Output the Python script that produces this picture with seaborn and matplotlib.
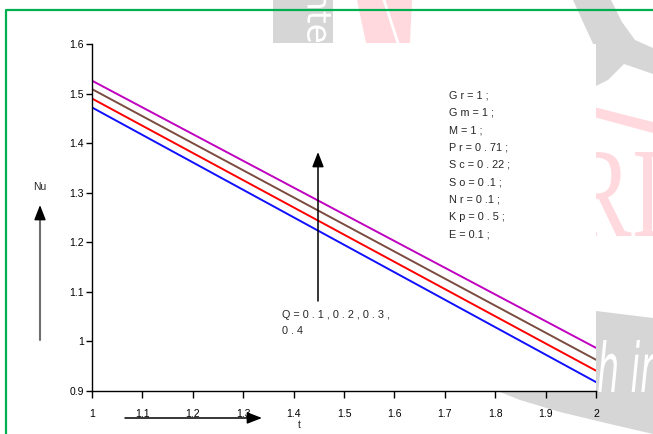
import numpy as np
import pandas as pd
import matplotlib
matplotlib.use("Agg")
import matplotlib.pyplot as plt
from matplotlib.patches import Polygon, FancyArrowPatch, PathPatch
from matplotlib.lines import Line2D
from matplotlib.textpath import TextPath
from matplotlib.path import Path
from matplotlib.font_manager import FontProperties
import seaborn as sns

# Nusselt number vs time for increasing heat source parameter Q
t = [1.0, 2.0]
q_values = ["0.1", "0.2", "0.3", "0.4"]
nu_q1 = [1.472, 0.918]
nu_q2 = [1.490, 0.941]
nu_q3 = [1.509, 0.963]
nu_q4 = [1.526, 0.987]
line_colors = ["#1010ff", "#ff0000", "#7a4b3f", "#c000c0"]

x_ticks = [1.0, 1.1, 1.2, 1.3, 1.4, 1.5, 1.6, 1.7, 1.8, 1.9, 2.0]
x_tick_labels = ["1", "1.1", "1.2", "1.3", "1.4", "1.5", "1.6", "1.7", "1.8", "1.9", "2"]
y_ticks = [0.9, 1.0, 1.1, 1.2, 1.3, 1.4, 1.5, 1.6]
y_tick_labels = ["0.9", "1", "1.1", "1.2", "1.3", "1.4", "1.5", "1.6"]

param_lines = ["G r = 1 ;", "G m = 1 ;", "M = 1 ;", "P r = 0 . 71 ;", "S c = 0 . 22 ;",
               "S o = 0 .1 ;", "N r = 0 .1 ;", "K p = 0 . 5 ;", "E = 0.1 ;"]
q_label_lines = ["Q = 0 . 1 , 0 . 2 , 0 . 3 ,", "0 . 4"]

df = pd.concat([
    pd.DataFrame({"t": t, "Nu": nu, "Q": q})
    for q, nu in zip(q_values, [nu_q1, nu_q2, nu_q3, nu_q4])
], ignore_index=True)

sns.set_theme(style="white")
plt.rcParams["font.family"] = ["Liberation Sans", "DejaVu Sans"]

W, H = 653, 434
fig = plt.figure(figsize=(W / 100, H / 100), dpi=100)
fig.patch.set_facecolor("white")


def P(x, y):
    """pixel position (y measured downward) -> figure fraction"""
    return (x / W, 1 - y / H)


def poly(points, color, z=-5):
    fig.add_artist(Polygon([P(*p) for p in points], closed=True, facecolor=color,
                           edgecolor="none", transform=fig.transFigure, zorder=z))


def glyphs(s, box, color, family="DejaVu Sans", style="normal", rotate=False, z=-4):
    """outline of a string stretched into a pixel box (x0, y0, x1, y1)"""
    tp = TextPath((0, 0), s, size=1, prop=FontProperties(family=family, style=style))
    v = tp.vertices.copy()
    if rotate:  # turned a quarter clockwise, reading downward
        v = np.column_stack([v[:, 1], -v[:, 0]])
    x0, y0, x1, y1 = box
    mn, mx = v.min(axis=0), v.max(axis=0)
    px = x0 + (v[:, 0] - mn[0]) / (mx[0] - mn[0]) * (x1 - x0)
    py = y1 - (v[:, 1] - mn[1]) / (mx[1] - mn[1]) * (y1 - y0)
    fv = np.column_stack([px / W, 1 - py / H])
    fig.add_artist(PathPatch(Path(fv, tp.codes), facecolor=color, edgecolor="none",
                             transform=fig.transFigure, zorder=z))


# background logo shapes
grey = "#d6d6d6"
pink = "#ffd9de"
poly([(273, 0), (333, 0), (333, 43), (273, 43)], grey)
glyphs("nte", (307, -10, 331, 42), "white", rotate=True)
poly([(357, 0), (412, 0), (410, 43), (366, 43)], pink)
fig.add_artist(Line2D([P(384, 0)[0], P(398, 43)[0]], [P(384, 0)[1], P(398, 43)[1]],
                      color="white", lw=2, transform=fig.transFigure, zorder=-4))
poly([(573, 0), (583, 22), (595, 48), (596, 86), (608, 80), (624, 64), (653, 74),
      (653, 48), (635, 40), (622, 22), (611, 0)], grey)
poly([(590, 106), (653, 122), (653, 133), (590, 116)], pink)
poly([(470, 300), (596, 311), (653, 318), (653, 434), (610, 424), (560, 412),
      (520, 400), (495, 390)], grey)
glyphs("RI", (568, 152, 660, 236), pink, family="Liberation Serif")
glyphs("h in", (597, 340, 660, 392), "white", style="italic")

# green frame (top and left edges)
fig.add_artist(Line2D([P(6, 440)[0], P(6, 10)[0], P(660, 10)[0]],
                      [P(6, 440)[1], P(6, 10)[1], P(660, 10)[1]],
                      color="#00b050", lw=1.6, transform=fig.transFigure, zorder=-3))

# main axes
ax = fig.add_axes([92 / W, 1 - 391 / H, (596 - 92) / W, (391 - 44) / H])
ax.set_facecolor("white")
sns.lineplot(data=df, x="t", y="Nu", hue="Q", palette=line_colors, ax=ax,
             legend=False, linewidth=1.4)
ax.set_xlim(1, 2)
ax.set_ylim(0.9, 1.6)
ax.set_xticks(x_ticks)
ax.set_xticklabels(x_tick_labels)
ax.set_yticks(y_ticks)
ax.set_yticklabels(y_tick_labels)
ax.set_xlabel("")
ax.set_ylabel("")
sns.despine(ax=ax)
for side in ("left", "bottom"):
    ax.spines[side].set_color("black")
    ax.spines[side].set_linewidth(1.0)
ax.tick_params(axis="y", direction="out", length=4, width=1, pad=2,
               labelsize=7.5, colors="black", left=True)
ax.tick_params(axis="x", direction="out", length=5, width=1, pad=8,
               labelsize=7.5, colors="black", bottom=True)
ax.grid(False)

# axis names
fig.text(*P(40, 187), "Nu", fontsize=7.5, ha="center", va="center")
fig.text(*P(299, 425), "t", fontsize=7.5, ha="center", va="center")

# parameter block
for i, s in enumerate(param_lines):
    fig.text(*P(449, 95.7 + i * 17.3), s, fontsize=7.8, ha="left", va="center")

# Q annotation
fig.text(*P(282, 315.5), q_label_lines[0], fontsize=7.8, ha="left", va="center")
fig.text(*P(282, 331.5), q_label_lines[1], fontsize=7.8, ha="left", va="center")


def arrow(p0, p1, color="black", lw=1.1):
    fig.add_artist(FancyArrowPatch(P(*p0), P(*p1), transform=fig.transFigure,
                                   arrowstyle="-|>,head_length=0.9,head_width=0.35",
                                   mutation_scale=10, color=color, lw=lw,
                                   shrinkA=0, shrinkB=0, zorder=5))


# direction arrows
fig.add_artist(Line2D([P(40, 340)[0], P(40, 214)[0]], [P(40, 340)[1], P(40, 214)[1]],
                      color="#6e6e6e", lw=1.5, transform=fig.transFigure, zorder=5))
arrow((40, 216), (40, 205))
arrow((318, 301), (318, 152), lw=1.1)
arrow((125, 418), (262, 418), lw=1.1)

fig.savefig("out.png", dpi=100)
